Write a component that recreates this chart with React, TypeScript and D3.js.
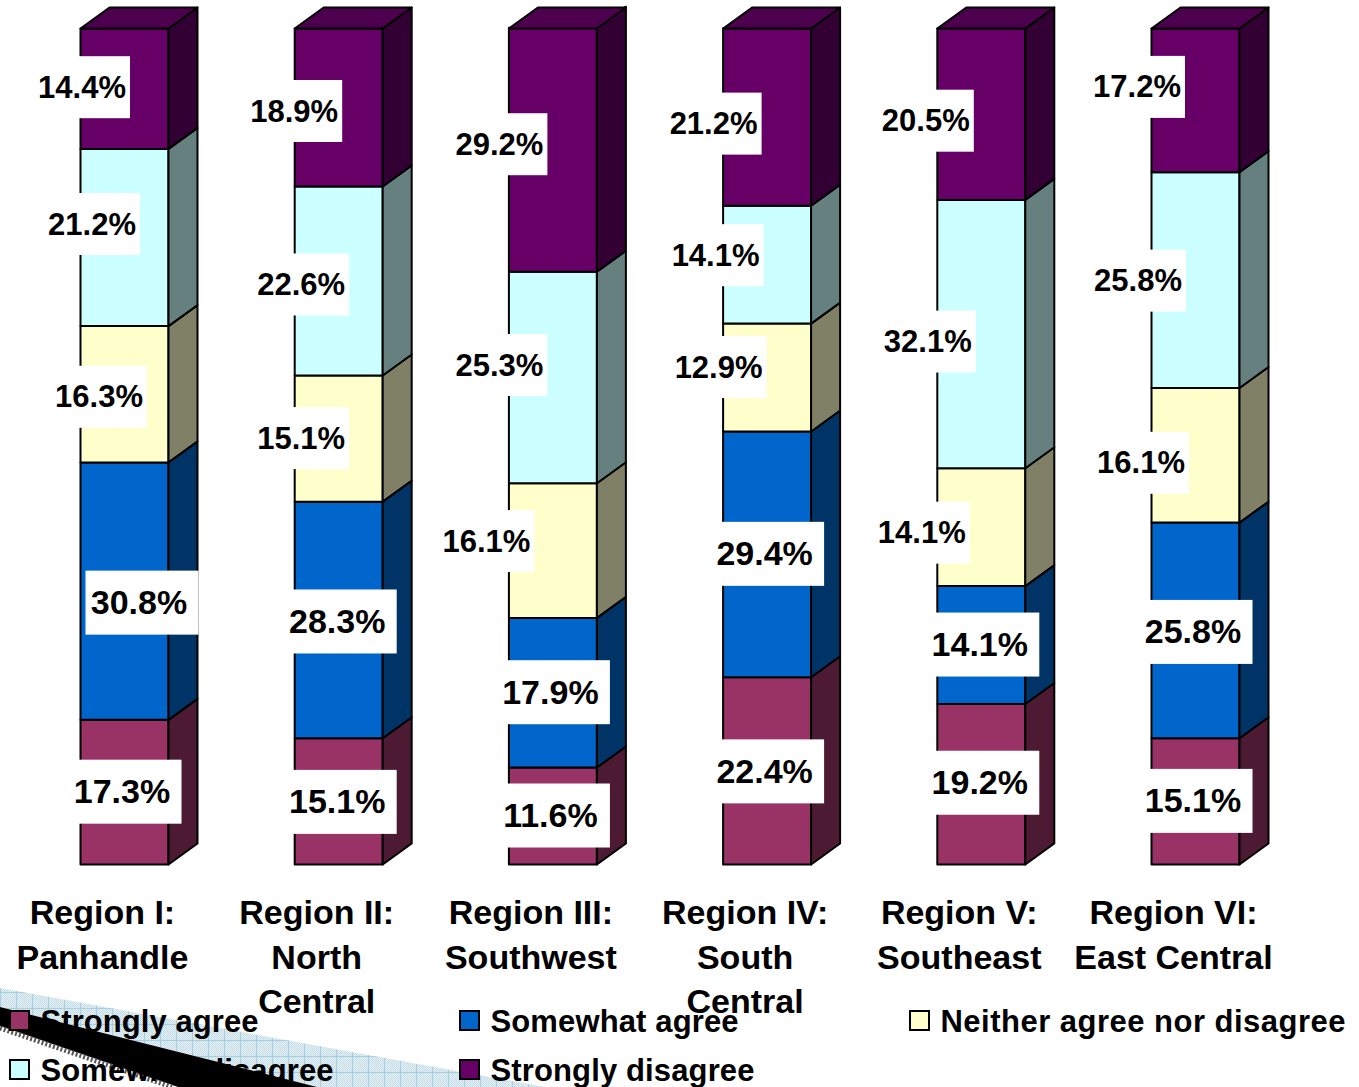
import React from 'react';
import * as d3 from 'd3';

const regionLines = [
  ['Region I:', 'Panhandle'],
  ['Region II:', 'North', 'Central'],
  ['Region III:', 'Southwest'],
  ['Region IV:', 'South', 'Central'],
  ['Region V:', 'Southeast'],
  ['Region VI:', 'East Central'],
];
const seriesNames = ['Strongly agree', 'Somewhat agree', 'Neither agree nor disagree', 'Somewhat disagree', 'Strongly disagree'];
const stronglyAgree = [17.3, 15.1, 11.6, 22.4, 19.2, 15.1];
const somewhatAgree = [30.8, 28.3, 17.9, 29.4, 14.1, 25.8];
const neither = [16.3, 15.1, 16.1, 12.9, 14.1, 16.1];
const somewhatDisagree = [21.2, 22.6, 25.3, 14.1, 32.1, 25.8];
const stronglyDisagree = [14.4, 18.9, 29.2, 21.2, 20.5, 17.2];
const seriesValues = [stronglyAgree, somewhatAgree, neither, somewhatDisagree, stronglyDisagree];

const faceColors = ['#993366', '#0066CC', '#FFFFCC', '#CCFFFF', '#660066'];
const sideColors = ['#4D1A33', '#003366', '#808066', '#668080', '#330033'];
const topColor = '#4D004D';

// label offsets from the centre of each bar segment
const labelDx = [
  [-2, -1, -2, -2, -1, -2],
  [15, -1, -2, -2, -1, -2],
  [-25, -37, -66, -48, -59, -54],
  [-32, -37, -53, -51, -53, -57],
  [-42, -44, -53, -53, -55, -58],
];
const labelDy = [
  [0, 1, 0, 1, -1, 0],
  [12, 2, 0, 0, 0, 2],
  [3, 0, -9, -10, 6, 8],
  [-13, 4, -12, -9, 8, 1],
  [-1, 4, -5, 7, 7, -13],
];
const legendWidths = [218, 248, 405, 293, 264];

const W = 1359, H = 1087;
const FONT = '"Liberation Sans", Arial, sans-serif';
const y = d3.scaleLinear().domain([0, 100]).range([864.5, 28.5]);
const x = d3.scaleBand().domain(regionLines.map((_, i) => String(i))).range([80.5, 1239.5]).paddingInner(0.5892).paddingOuter(0).align(0);
const DX = 29, DY = -21;
const stacked = d3.stack<number>().keys(seriesNames.map((_, i) => String(i))).value((i, k) => seriesValues[+k][i])(regionLines.map((_, i) => i));

const legendRows = [0, 1];
const legendX = d3.scaleOrdinal<number, number>().domain([0, 1, 2]).range([10, 460, 910]);
const legendY = d3.scalePoint<number>().domain(legendRows).range([1011, 1060]);

export default function App() {
  const bw = x.bandwidth();
  const pts = (a: number[][]) => a.map((p) => p.join(',')).join(' ');
  return (
    <svg width={W} height={H} style={{ position: 'absolute', left: 0, top: 0, background: '#fff' }} fontFamily={FONT} fontWeight="bold">
      <defs>
        <pattern id="dither" width="2" height="2" patternUnits="userSpaceOnUse">
          <rect width="2" height="2" fill="#E4F0F4" />
          <rect width="1" height="1" fill="#C4DDE8" />
          <rect x="1" y="1" width="1" height="1" fill="#C4DDE8" />
        </pattern>
        <pattern id="grid" width="16" height="16" patternUnits="userSpaceOnUse">
          <path d="M0 0.5H16M0.5 0V16" stroke="#A8CFE0" strokeWidth="1" />
        </pattern>
      </defs>
      <polygon points="0,988 545,1087 317,1087 0,1007" fill="url(#dither)" />
      <polygon points="0,988 545,1087 317,1087 0,1007" fill="url(#grid)" />
      <polygon points="0,1007 317,1087 178,1087 0,1026" fill="#000" />
      <line x1={0} y1={1028} x2={172} y2={1087} stroke="#555" strokeWidth={5} strokeDasharray="2 2" />
      {regionLines.map((_, i) => {
        const x0 = x(String(i))!;
        return (
          <g key={i} stroke="#000" strokeWidth={2} strokeLinejoin="round">
            {stacked.map((s, k) => {
              const y0 = y(s[i][0]), y1 = y(s[i][1]);
              return (
                <g key={k}>
                  <rect x={x0} y={y1} width={bw} height={y0 - y1} fill={faceColors[k]} />
                  <polygon points={pts([[x0 + bw, y0], [x0 + bw + DX, y0 + DY], [x0 + bw + DX, y1 + DY], [x0 + bw, y1]])} fill={sideColors[k]} />
                </g>
              );
            })}
            <polygon points={pts([[x0, y(100)], [x0 + DX, y(100) + DY], [x0 + bw + DX, y(100) + DY], [x0 + bw, y(100)]])} fill={topColor} />
          </g>
        );
      })}
      {regionLines.map((_, i) => {
        const cx = x(String(i))! + bw / 2;
        return stacked.map((s, k) => {
          const big = k < 2;
          const mid = (y(s[i][0]) + y(s[i][1])) / 2 + labelDy[k][i];
          const tx = cx + labelDx[k][i];
          const hw = big ? 48 : 43.5;
          return (
            <g key={`${i}-${k}`}>
              <rect x={tx - hw - 6} y={mid - (big ? 32.5 : 31.5)} width={hw * 2 + (big ? 17 : 10)} height={big ? 64 : 62} fill="#fff" />
              <text x={tx - 0.5} y={mid + (big ? 11 : 10)} textAnchor="middle" fontSize={big ? 34 : 31} fill="#000">{seriesValues[k][i].toFixed(1)}%</text>
            </g>
          );
        });
      })}
      {regionLines.map((lines, i) => (
        <text key={i} textAnchor="middle" fontSize={34} fill="#000">
          {lines.map((l, j) => (
            <tspan key={j} x={x(String(i))! + bw / 2 - 22} y={924 + j * 44.5}>{l}</tspan>
          ))}
        </text>
      ))}
      {seriesNames.map((n, k) => {
        const col = k % 3, row = Math.floor(k / 3);
        const lx = legendX(col), ly = legendY(row)!;
        return (
          <g key={n}>
            <rect x={lx} y={ly} width={19} height={19} fill={faceColors[k]} stroke="#000" strokeWidth={2} />
            <text x={lx + 30.5} y={ly + 21} fontSize={31} textLength={legendWidths[k]} lengthAdjust="spacing" fill="#000">{n}</text>
          </g>
        );
      })}
    </svg>
  );
}
